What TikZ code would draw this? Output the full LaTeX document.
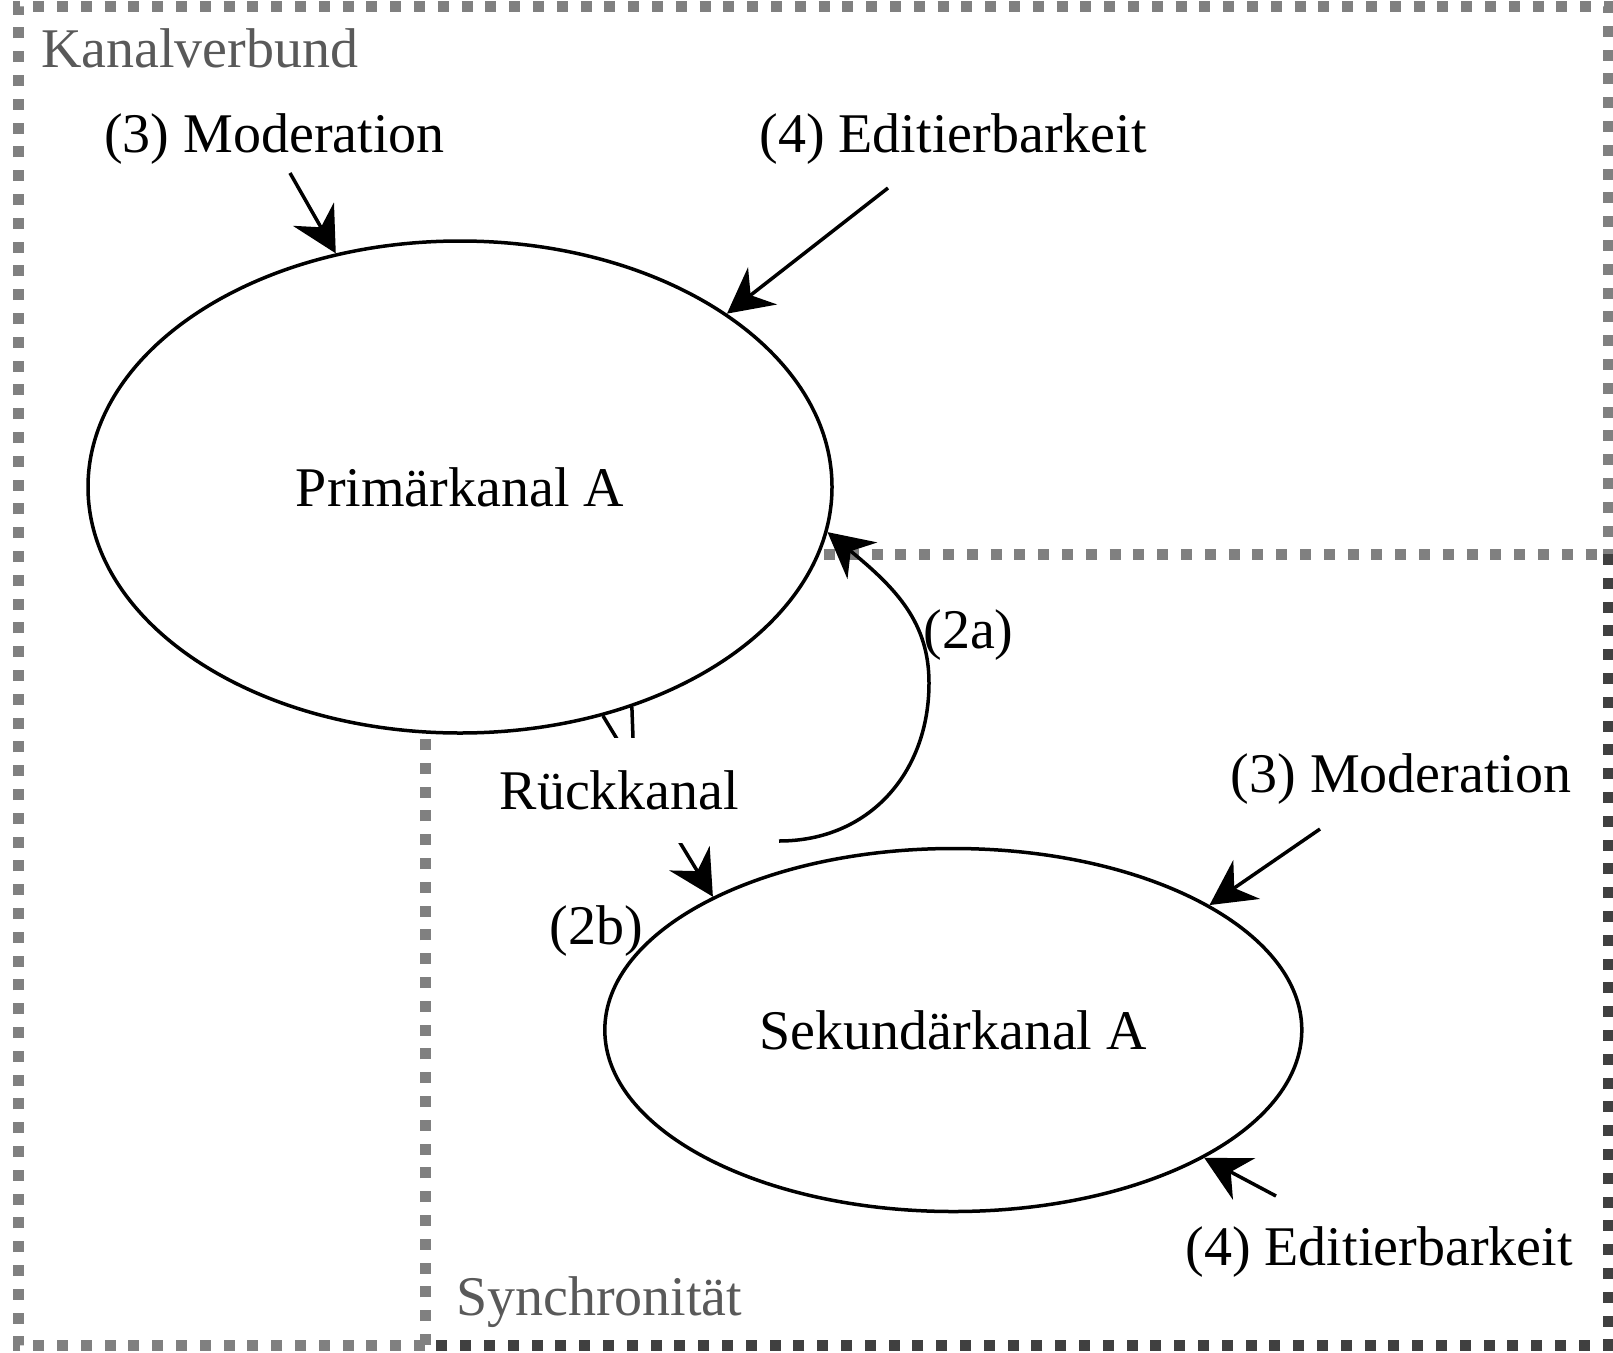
\documentclass[tikz,border=0pt]{standalone}
\usepackage{fontspec}
\setmainfont{Liberation Serif}
\usetikzlibrary{shapes.geometric,arrows.meta,calc}
\definecolor{boxgray}{RGB}{128,128,128}
\definecolor{boxdark}{RGB}{64,64,64}
\definecolor{lbl}{RGB}{89,89,89}
\newcommand\bigfs{\fontsize{56}{67}\selectfont}
\begin{document}
\begin{tikzpicture}[x=1pt,y=-1pt,
  ell/.style={ellipse, draw, line width=3.5pt, fill=white, inner sep=0pt, font=\bigfs},
  lab/.style={font=\bigfs, inner sep=0pt, anchor=base},
  grp/.style={font=\bigfs, text=lbl, inner sep=0pt, anchor=base west},
  arr/.style={line width=3.5pt, -{Stealth[length=45pt,width=47pt,inset=15pt]}},
  gbox/.style={draw=boxgray, line width=11pt, dash pattern=on 11pt off 12.8pt},
  dbox/.style={draw=boxdark, line width=11pt, dash pattern=on 11pt off 12.8pt}]
\useasboundingbox (0,0) rectangle (1613,1352);
% group boxes
\draw[gbox] (425,1345) -- (18,1345) -- (18,6) -- (1608,6) -- (1608,554);
\draw[gbox] (425,1345) -- (425,554) -- (1608,554);
\draw[dbox] (1608,554) -- (1608,1345) -- (425,1345);
\node[grp] (kv) at (41,67) {Kanalverbund};
\node[grp] (sy) at (456,1315) {Synchronität};
% channels
\node[ell, minimum width=744pt, minimum height=492pt] (prim) at (460,487) {Primärkanal A};
\node[ell, minimum width=697pt, minimum height=363pt] (sec) at (953.3,1030) {Sekundärkanal A};
% labels
\node[lab] (mod1) at (274.5,152) {(3) Moderation};
\node[lab] (edi1) at (953,152) {(4) Editierbarkeit};
\node[lab] (mod2) at (1401,792) {(3) Moderation};
\node[lab] (edi2) at (1379,1265) {(4) Editierbarkeit};
\node[lab] (l2a) at (968.5,648) {(2a)};
\node[lab] (l2b) at (596,944) {(2b)};
% arrow start points
\coordinate (s1) at (290,173);
\coordinate (s2) at (888,188);
\coordinate (s3) at (1320,829);
\coordinate (s4) at (1276,1196);
\coordinate (c2a) at (779,841);
\coordinate (m2a) at (929,683);
\draw[arr] (s1) -- (prim.118.5);
\draw[arr] (s2) -- (prim.33.1);
\draw[arr] (s3) -- (sec.26.7);
\draw[arr] (s4) -- (sec.-27.4);
% Rueckkanal
\draw[arr] (prim.-58.5) -- (sec.151.7);
\node[font=\bigfs, fill=white, inner sep=0pt, minimum width=240pt, minimum height=105pt] (rk) at (619.5,790.5) {Rückkanal};
\draw[line width=3.5pt] (prim.-52.6) -- ($(rk.north)+(13.5,0)$);
% (2a)
\draw[arr] (c2a) .. controls (869,841) and (929,773) .. (m2a)
  .. controls (929,623) and (897,589) .. (prim.-7.5);
\end{tikzpicture}
\end{document}
